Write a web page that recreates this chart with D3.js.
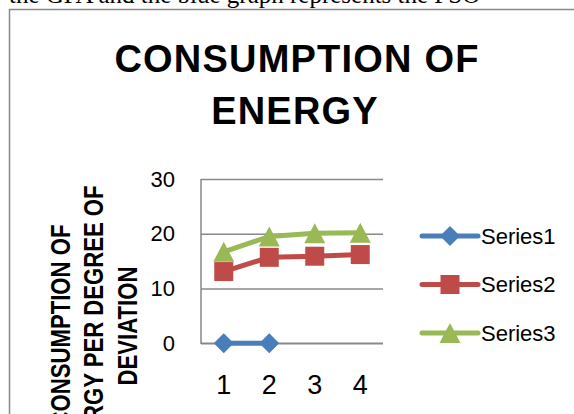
<!DOCTYPE html>
<html>
<head>
<meta charset="utf-8">
<script src="https://cdn.jsdelivr.net/npm/d3@7"></script>
<style>
  body { margin: 0; background: #fff; }
  svg { display: block; }
</style>
</head>
<body>
<div id="chart"></div>
<script>
// chart values
const categories = [1, 2, 3, 4];
const series1 = [0, 0, null, null];
const series2 = [13.1, 15.7, 15.9, 16.2];
const series3 = [16.7, 19.5, 20.1, 20.2];
const yTicks = [0, 10, 20, 30];
const seriesNames = ["Series1", "Series2", "Series3"];
const colors = ["#4A7EBB", "#BE4B48", "#98B954"];
const markerTypes = ["diamond", "square", "triangle"];

function createEnergyChart() {
    const W = 574, H = 414;
    const plot = { left: 201, right: 383, top: 179, bottom: 343.3 };

    const svg = d3.select("#chart").append("svg")
        .attr("width", W)
        .attr("height", H);

    svg.append("rect").attr("width", W).attr("height", H).attr("fill", "#fff");

    // document text cut off at the top of the page
    svg.append("text")
        .attr("x", 9)
        .attr("y", 3)
        .style("font-family", "Liberation Serif")
        .style("font-size", "25px")
        .text("the GPA and the blue graph represents the PSO");

    // chart frame
    svg.append("path")
        .attr("d", `M9.5,${H + 5}V9.5H${W + 5}`)
        .attr("fill", "none")
        .attr("stroke", "#888")
        .attr("stroke-width", 1.5);

    // title
    const title = svg.append("text")
        .attr("text-anchor", "middle")
        .style("font-family", "Liberation Sans")
        .style("font-weight", "bold")
        .style("font-size", "38px")
        .style("letter-spacing", "1.2px");
    title.append("tspan").attr("x", 297).attr("y", 72).text("CONSUMPTION OF");
    title.append("tspan").attr("x", 295).attr("y", 124).text("ENERGY");

    // y axis title (condensed along the text direction)
    const sx = 0.82;
    const ytitle = svg.append("text")
        .attr("text-anchor", "middle")
        .attr("transform", `rotate(-90) scale(${sx},1)`)
        .style("font-family", "Liberation Sans")
        .style("font-weight", "bold")
        .style("font-size", "27px");
    ["CONSUMPTION OF", "ENERGY PER DEGREE OF", "DEVIATION"].forEach((t, i) => {
        ytitle.append("tspan")
            .attr("x", -326 / sx)
            .attr("y", 70 + i * 33.5)
            .text(t);
    });

    const xScale = d3.scaleBand()
        .domain(categories)
        .range([plot.left, plot.right]);
    const xc = d => xScale(d) + xScale.bandwidth() / 2;

    const yScale = d3.scaleLinear()
        .domain([0, 30])
        .range([plot.bottom, plot.top]);

    // gridlines + y labels
    const yAxis = d3.axisLeft(yScale)
        .tickValues(yTicks)
        .tickSize(-(plot.right - plot.left))
        .tickPadding(26);

    const gy = svg.append("g")
        .attr("transform", `translate(${plot.left},0)`)
        .call(yAxis);
    gy.select(".domain").remove();
    gy.selectAll(".tick line")
        .attr("stroke", "#888")
        .attr("stroke-width", 1.5);
    gy.selectAll(".tick text")
        .attr("fill", "#000")
        .style("font-family", "Liberation Sans")
        .style("font-size", "22px");

    // x labels
    const xAxis = d3.axisBottom(xScale)
        .tickSize(0)
        .tickPadding(32);
    const gx = svg.append("g")
        .attr("transform", `translate(0,${plot.bottom})`)
        .call(xAxis);
    gx.select(".domain").remove();
    gx.selectAll(".tick text")
        .attr("fill", "#000")
        .style("font-family", "Liberation Sans")
        .style("font-size", "27px");

    // axis lines
    svg.append("path")
        .attr("d", `M${plot.left},${plot.top}V${plot.bottom}H${plot.right}`)
        .attr("fill", "none")
        .attr("stroke", "#888")
        .attr("stroke-width", 1.5);

    function markerPath(type) {
        if (type === "diamond") return "M0,-10L10,0L0,10L-10,0Z";
        if (type === "square") return "M-9.5,-9.5H9.5V9.5H-9.5Z";
        return "M0,-10L10.5,10H-10.5Z";
    }

    const allSeries = [series1, series2, series3];
    const line = d3.line()
        .defined(d => d.v !== null)
        .x(d => xc(d.c))
        .y(d => yScale(d.v));

    allSeries.forEach((vals, i) => {
        const pts = categories.map((c, j) => ({ c: c, v: vals[j] }));
        svg.append("path")
            .datum(pts)
            .attr("d", line)
            .attr("fill", "none")
            .attr("stroke", colors[i])
            .attr("stroke-width", 5)
            .attr("stroke-linejoin", "round")
            .attr("stroke-linecap", "round");

        svg.selectAll(".marker-" + i)
            .data(pts.filter(d => d.v !== null))
            .enter()
            .append("path")
            .attr("class", "marker-" + i)
            .attr("transform", d => `translate(${xc(d.c)},${yScale(d.v)})`)
            .attr("d", markerPath(markerTypes[i]))
            .attr("fill", colors[i]);
    });

    // legend
    const legend = svg.append("g")
        .attr("transform", "translate(422,0)");
    const items = legend.selectAll(".legend-item")
        .data(seriesNames)
        .enter()
        .append("g")
        .attr("class", "legend-item")
        .attr("transform", (d, i) => `translate(0,${236 + i * 48.5})`);
    items.append("line")
        .attr("x1", 0).attr("x2", 56)
        .attr("stroke", (d, i) => colors[i])
        .attr("stroke-width", 5)
        .attr("stroke-linecap", "round");
    items.append("path")
        .attr("transform", "translate(28,0)")
        .attr("d", (d, i) => markerPath(markerTypes[i]))
        .attr("fill", (d, i) => colors[i]);
    items.append("text")
        .attr("x", 59)
        .attr("dy", "0.36em")
        .style("font-family", "Liberation Sans")
        .style("font-size", "22px")
        .text(d => d);
}

createEnergyChart();
</script>
</body>
</html>
